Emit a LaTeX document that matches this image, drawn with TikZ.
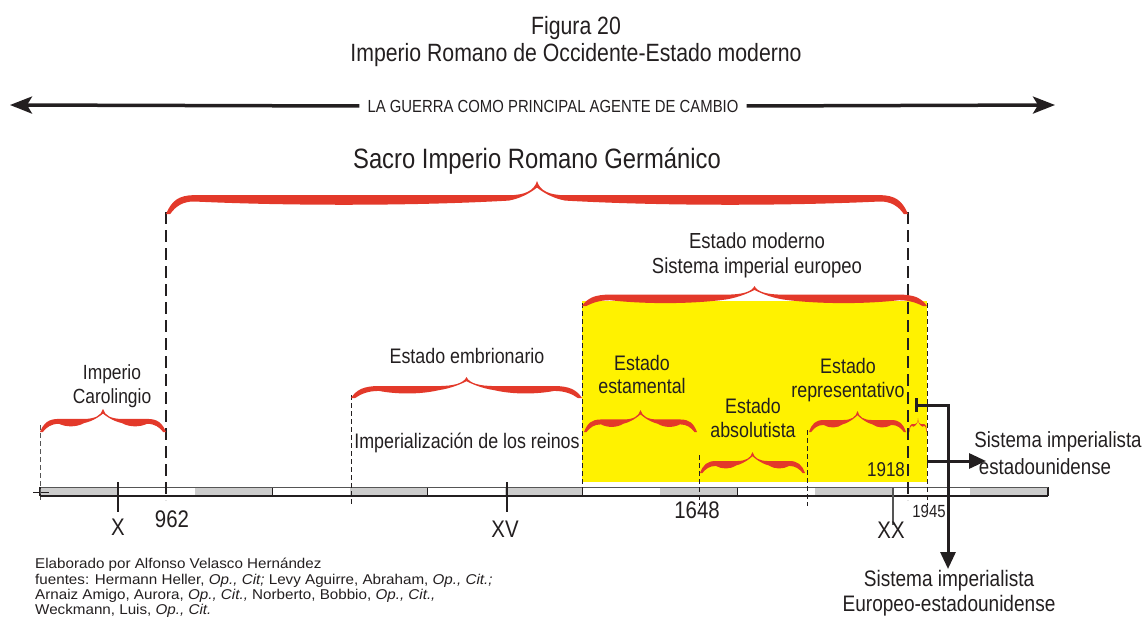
\documentclass[tikz,border=0pt]{standalone}
\usepackage{fontspec}
\setmainfont{Liberation Sans}[FakeStretch=0.85]
\newfontfamily\footfont{Liberation Sans}[FakeStretch=1.07]
\usetikzlibrary{arrows.meta}
\definecolor{bracered}{HTML}{E3392A}
\definecolor{hlyellow}{HTML}{FFF200}
\definecolor{ink}{HTML}{231F20}
\definecolor{bargray}{HTML}{CCCCCC}
\definecolor{tickgray}{HTML}{555555}

% #1 x1, #2 x2, #3 y of ends, #4 y of peak, #5 thickness (pixel coords, y down)
\newcommand\redbrace[5]{%
 \pgfmathsetmacro\bw{(#2-#1)/2}%
 \pgfmathsetmacro\bm{(#1+#2)/2}%
 \pgfmathsetmacro\bh{#3-#4}%
 \pgfmathsetmacro\bq{#3-0.57*\bh}%
 \pgfmathsetmacro\be{min(0.3*\bw,28)}%
 \pgfmathsetmacro\bt{#5}%
 \pgfmathsetmacro\bL{#1+\be}%
 \pgfmathsetmacro\bLi{\bm-\be}%
 \pgfmathsetmacro\bR{#2-\be}%
 \pgfmathsetmacro\bRi{\bm+\be}%
 \pgfmathsetmacro\bs{(\bLi-\bL)*0.3}%
 \fill[bracered]
 (#1,#3) .. controls ({#1+0.2*\be},{\bq+0.3*(#3-\bq)}) and ({#1+0.45*\be},\bq) .. (\bL,\bq)
 .. controls ({\bL+\bs},\bq) and ({\bLi-\bs},\bq) .. (\bLi,\bq)
 .. controls ({\bm-0.45*\be},\bq) and ({\bm-0.1*\be},{#4+0.3*\bh}) .. (\bm,#4)
 .. controls ({\bm+0.1*\be},{#4+0.3*\bh}) and ({\bm+0.45*\be},\bq) .. (\bRi,\bq)
 .. controls ({\bRi+\bs},\bq) and ({\bR-\bs},\bq) .. (\bR,\bq)
 .. controls ({#2-0.45*\be},\bq) and ({#2-0.2*\be},{\bq+0.3*(#3-\bq)}) .. (#2,#3)
 -- ({#2-0.15*\be},#3)
 .. controls ({#2-0.35*\be},{\bq+\bt+0.2*(#3-\bq-\bt)}) and ({#2-0.6*\be},{\bq+0.7*\bt}) .. (\bR,{\bq+0.7*\bt})
 .. controls ({\bR-\bs},{\bq+1.2*\bt}) and ({\bRi+\bs},{\bq+1.2*\bt}) .. (\bRi,{\bq+0.6*\bt})
 .. controls ({\bm+0.5*\be},{\bq+0.3*\bt}) and ({\bm+0.15*\be},{#4+0.3*\bh}) .. (\bm,{#4+0.2*\bh})
 .. controls ({\bm-0.15*\be},{#4+0.3*\bh}) and ({\bm-0.5*\be},{\bq+0.3*\bt}) .. (\bLi,{\bq+0.6*\bt})
 .. controls ({\bLi-\bs},{\bq+1.2*\bt}) and ({\bL+\bs},{\bq+1.2*\bt}) .. (\bL,{\bq+0.7*\bt})
 .. controls ({#1+0.6*\be},{\bq+0.7*\bt}) and ({#1+0.35*\be},{\bq+\bt+0.2*(#3-\bq-\bt)}) .. ({#1+0.15*\be},#3)
 -- cycle;}

\tikzset{
 lbl/.style={font=\fontsize{21}{23.5}\selectfont, text=ink, align=center, inner sep=0pt},
 bigl/.style={font=\fontsize{28}{32}\selectfont, text=ink, inner sep=0pt},
 titl/.style={font=\fontsize{25}{27}\selectfont, text=ink, align=center, inner sep=0pt},
 yr/.style={font=\fontsize{24}{26}\selectfont, text=ink, inner sep=0pt},
 thickdash/.style={ink, line width=2.3pt, dash pattern=on 12pt off 6pt},
 thindash/.style={ink, line width=0.9pt, dash pattern=on 5pt off 3pt},
 segline/.style={ink, line width=1.1pt},
 bigarrow/.style={ink, line width=3pt, -{Triangle[length=17pt,width=15pt]}},
}

\begin{document}
\begin{tikzpicture}[x=1pt,y=-1pt]
\useasboundingbox (0,0) rectangle (1145,623);

% yellow region
\fill[hlyellow] (582,301) rectangle (927,482);

% timeline bar
\foreach \i in {0,...,12}{
  \pgfmathsetmacro\xa{40+77.54*\i}
  \pgfmathsetmacro\xb{40+77.54*(\i+1)}
  \pgfmathparse{mod(\i,2)==0 ? 1 : 0}
  \ifnum\pgfmathresult=1
    \fill[bargray] (\xa,487) rectangle (\xb,496);
  \fi
  \draw[segline] (\xb,487) -- (\xb,496);
}
\draw[tickgray, line width=0.8pt] (40,487) -- (1048,487);
\draw[ink, line width=1.4pt] (40,496) -- (1048,496);
\draw[segline] (40,487) -- (40,496);
\draw[ink, line width=1pt] (33,492) -- (49,492);

% dashed verticals
\draw[thindash, tickgray] (40,425) -- (40,500);
\draw[thickdash] (166,212) -- (166,500);
\draw[thickdash] (908,212) -- (908,500);
\draw[thindash] (351,395) -- (351,505);
\draw[thindash] (582,303) -- (582,491);
\draw[thindash] (699,455) -- (699,506);
\draw[thindash] (807,430) -- (807,506);
\draw[thindash] (927,303) -- (927,506);

% ticks
\draw[ink, line width=1.4pt] (118,482) -- (118,512);
\draw[ink, line width=1.4pt] (507,482) -- (507,512);
\draw[tickgray, line width=1.4pt] (893,487) -- (893,525);

% braces
\redbrace{166}{908}{214}{181}{9}
\redbrace{582}{927}{306}{286}{8}
\redbrace{40}{166}{432}{409}{7}
\redbrace{351}{582}{398}{377}{7}
\redbrace{584}{697}{432}{410}{7}
\redbrace{700}{805}{473}{452}{7}
\redbrace{809}{906}{432}{411}{7}
\redbrace{909}{927}{432}{418}{2.5}

% texts
\node[titl] (title) at (576,42) {Figura 20\\Imperio Romano de Occidente-Estado moderno};
\node[font=\fontsize{17.5}{19}\selectfont, text=ink, inner sep=0pt] (guerra) at (553,106) {LA GUERRA COMO PRINCIPAL AGENTE DE CAMBIO};
\coordinate (gl) at (10,105);
\coordinate (gr) at (1055,105);
\draw[ink, line width=3.5pt, -{Stealth[length=22pt,width=17pt,inset=5pt]}] (guerra.west) ++(-8,0) -- (gl);
\draw[ink, line width=3.5pt, -{Stealth[length=22pt,width=17pt,inset=5pt]}] (guerra.east) ++(8,0) -- (gr);

\node[bigl] (sacro) at (537,161) {Sacro Imperio Romano Germánico};
\node[lbl, font=\fontsize{21.8}{25}\selectfont] (moderno) at (757,255) {Estado moderno\\Sistema imperial europeo};
\node[lbl, font=\fontsize{20.5}{24}\selectfont] (carol) at (112,386) {Imperio\\Carolingio};
\node[lbl] (embr) at (467,356) {Estado embrionario};
\node[lbl] (imperial) at (467,443) {Imperialización de los reinos};
\node[lbl] (estam) at (642,374.5) {Estado\\estamental};
\node[lbl] (absol) at (753,418) {Estado\\absolutista};
\node[lbl] (repres) at (848,380) {Estado\\representativo};
\node[font=\fontsize{20}{22}\selectfont, text=ink, inner sep=0pt] (y1918) at (886,470) {1918};

\node[yr] (yX) at (118,527) {X};
\node[yr] (y962) at (172,519) {962};
\node[yr] (yXV) at (505,529) {XV};
\node[yr] (y1648) at (697,510) {1648};
\node[yr] (yXX) at (891,530) {XX};
\node[font=\fontsize{17.6}{19}\selectfont, text=ink, inner sep=0pt] (y1945) at (929,511) {1945};

% outcome arrows
\node[lbl, font=\fontsize{22}{24}\selectfont] (usa1) at (1058,442) {Sistema imperialista};
\node[lbl, font=\fontsize{22}{24}\selectfont] (usa2) at (1045,467) {estadounidense};
\node[lbl, font=\fontsize{22.4}{24.5}\selectfont] (euusa) at (949,593) {Sistema imperialista\\Europeo-estadounidense};
\coordinate (hstart) at (927,461);
\coordinate (hend) at (986,461);
\draw[bigarrow] (hstart) -- (hend);
\coordinate (bar1) at (916,398);
\coordinate (bar2) at (916,412);
\coordinate (bmid) at (916,405);
\coordinate (corner) at (948,405);
\coordinate (vend) at (948,569);
\draw[ink, line width=3pt] (bar1) -- (bar2);
\draw[bigarrow] (bmid) -- (corner) -- (vend);

% footnote
\node[anchor=north west, font=\footfont\fontsize{14.2}{15.4}\selectfont, text=ink, align=left, inner sep=0pt] (foot) at (35,558)
 {Elaborado por Alfonso Velasco Hernández\\
  fuentes: Hermann Heller, \textit{Op., Cit;} Levy Aguirre, Abraham, \textit{Op., Cit.;}\\
  Arnaiz Amigo, Aurora, \textit{Op., Cit.,} Norberto, Bobbio, \textit{Op., Cit.,}\\
  Weckmann, Luis, \textit{Op., Cit.}};
\end{tikzpicture}
\end{document}
